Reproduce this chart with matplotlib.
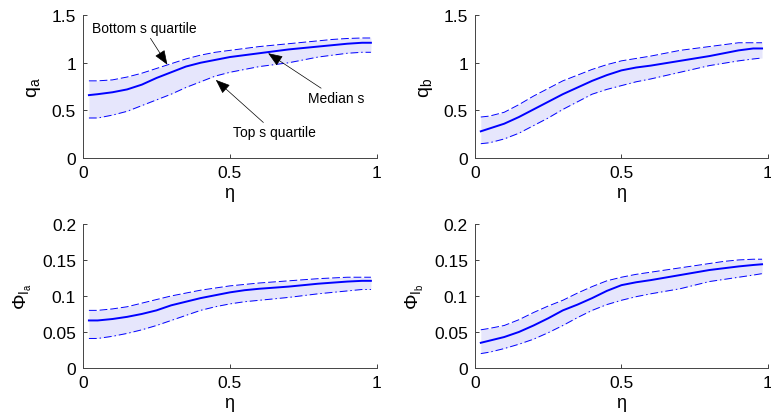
import matplotlib
matplotlib.use("Agg")
import matplotlib.pyplot as plt

plt.rcParams["font.family"] = ["Liberation Sans", "DejaVu Sans"]
plt.rcParams["mathtext.fontset"] = "custom"
plt.rcParams["mathtext.rm"] = "Liberation Sans"
plt.rcParams["mathtext.it"] = "Liberation Sans"

# eta grid shared by all four panels
eta = [0.02, 0.05, 0.1, 0.15, 0.2, 0.25, 0.3, 0.35, 0.4, 0.45, 0.5,
       0.55, 0.6, 0.65, 0.7, 0.75, 0.8, 0.85, 0.9, 0.95, 0.98]

# q_a: median and quartiles
qa_med = [0.66, 0.67, 0.69, 0.72, 0.77, 0.84, 0.90, 0.96, 1.00, 1.03, 1.06,
          1.08, 1.10, 1.12, 1.14, 1.155, 1.17, 1.185, 1.20, 1.21, 1.21]
qa_hi = [0.81, 0.81, 0.82, 0.85, 0.89, 0.94, 0.99, 1.04, 1.08, 1.11, 1.13,
         1.15, 1.17, 1.185, 1.20, 1.215, 1.23, 1.245, 1.255, 1.26, 1.26]
qa_lo = [0.42, 0.42, 0.45, 0.49, 0.55, 0.61, 0.67, 0.74, 0.80, 0.86, 0.90,
         0.93, 0.96, 0.98, 1.00, 1.03, 1.06, 1.08, 1.10, 1.11, 1.11]

# q_b
qb_med = [0.28, 0.31, 0.36, 0.43, 0.51, 0.59, 0.67, 0.74, 0.81, 0.87, 0.92,
          0.95, 0.97, 0.995, 1.02, 1.045, 1.07, 1.10, 1.13, 1.15, 1.15]
qb_hi = [0.43, 0.44, 0.48, 0.56, 0.65, 0.73, 0.81, 0.87, 0.93, 0.98, 1.02,
         1.045, 1.07, 1.10, 1.13, 1.15, 1.17, 1.19, 1.21, 1.21, 1.21]
qb_lo = [0.15, 0.16, 0.20, 0.26, 0.34, 0.42, 0.51, 0.59, 0.67, 0.72, 0.76,
         0.80, 0.83, 0.865, 0.90, 0.935, 0.97, 0.995, 1.02, 1.04, 1.05]

# Phi_Ia
pa_med = [0.066, 0.066, 0.068, 0.071, 0.075, 0.080, 0.087, 0.092, 0.097, 0.101, 0.105,
          0.108, 0.110, 0.1115, 0.113, 0.115, 0.117, 0.1185, 0.120, 0.121, 0.121]
pa_hi = [0.080, 0.080, 0.082, 0.085, 0.090, 0.095, 0.100, 0.104, 0.108, 0.111, 0.114,
         0.116, 0.118, 0.1195, 0.121, 0.1225, 0.124, 0.125, 0.126, 0.126, 0.126]
pa_lo = [0.041, 0.041, 0.044, 0.048, 0.053, 0.059, 0.066, 0.073, 0.080, 0.085, 0.089,
         0.092, 0.094, 0.096, 0.098, 0.1005, 0.103, 0.105, 0.107, 0.109, 0.109]

# Phi_Ib
pb_med = [0.035, 0.038, 0.043, 0.050, 0.059, 0.069, 0.080, 0.088, 0.097, 0.107, 0.115,
          0.119, 0.122, 0.1255, 0.129, 0.1325, 0.136, 0.1385, 0.141, 0.143, 0.144]
pb_hi = [0.053, 0.055, 0.059, 0.067, 0.077, 0.086, 0.094, 0.104, 0.113, 0.121, 0.126,
         0.130, 0.133, 0.136, 0.139, 0.142, 0.145, 0.148, 0.150, 0.151, 0.151]
pb_lo = [0.020, 0.022, 0.027, 0.033, 0.040, 0.049, 0.059, 0.070, 0.080, 0.088, 0.094,
         0.099, 0.103, 0.1065, 0.110, 0.115, 0.120, 0.123, 0.126, 0.129, 0.131]

q_ticks = [0, 0.5, 1, 1.5]
q_labels = ["0", "0.5", "1", "1.5"]
phi_ticks = [0, 0.05, 0.1, 0.15, 0.2]
phi_labels = ["0", "0.05", "0.1", "0.15", "0.2"]

panels = [
    (qa_med, qa_hi, qa_lo, r"q$_a$", (0, 1.5), q_ticks, q_labels),
    (qb_med, qb_hi, qb_lo, r"q$_b$", (0, 1.5), q_ticks, q_labels),
    (pa_med, pa_hi, pa_lo, r"$\Phi_{I_a}$", (0, 0.2), phi_ticks, phi_labels),
    (pb_med, pb_hi, pb_lo, r"$\Phi_{I_b}$", (0, 0.2), phi_ticks, phi_labels),
]

rects = [
    [0.1077, 0.616, 0.381, 0.345],
    [0.616, 0.616, 0.380, 0.345],
    [0.1077, 0.1087, 0.381, 0.348],
    [0.616, 0.1087, 0.380, 0.348],
]

BLUE = "#0000ff"
FILL = "#e6e6fc"

fig = plt.figure(figsize=(7.71, 4.14), dpi=100)
axes = []
for rect, (med, hi, lo, ylab, ylim, yt, ytl) in zip(rects, panels):
    ax = fig.add_axes(rect)
    ax.fill_between(eta, lo, hi, color=FILL, lw=0)
    ax.plot(eta, hi, color=BLUE, lw=0.7, dashes=(8, 3))
    ax.plot(eta, lo, color=BLUE, lw=0.7, dashes=(8, 3, 1.5, 3))
    ax.plot(eta, med, color=BLUE, lw=1.4)
    ax.set_xlim(0, 1)
    ax.set_ylim(*ylim)
    ax.set_xticks([0, 0.5, 1])
    ax.set_xticklabels(["0", "0.5", "1"])
    ax.set_yticks(yt)
    ax.set_yticklabels(ytl)
    ax.tick_params(direction="in", length=3, width=0.6, labelsize=12.5, pad=5,
                   colors="#222222", labelcolor="black")
    for side in ("top", "right"):
        ax.spines[side].set_visible(False)
    for side in ("left", "bottom"):
        ax.spines[side].set_color("#444444")
        ax.spines[side].set_linewidth(0.7)
    ax.set_xlabel(r"$\eta$", fontsize=13, labelpad=4)
    ax.set_ylabel(ylab, fontsize=14, labelpad=6)
    axes.append(ax)

arrow = dict(arrowstyle="-|>,head_length=0.9,head_width=0.35", color="black",
             lw=0.5, shrinkA=0, shrinkB=0)
ax = axes[0]
ax.annotate("Bottom s quartile", xy=(0.287, 0.98), xytext=(0.03, 1.36),
            fontsize=10, ha="left", va="center", arrowprops=arrow)
ax.annotate("Median s", xy=(0.63, 1.10), xytext=(0.765, 0.63),
            fontsize=10, ha="left", va="center", arrowprops=arrow)
ax.annotate("Top s quartile", xy=(0.452, 0.82), xytext=(0.51, 0.27),
            fontsize=10, ha="left", va="center", arrowprops=arrow)

fig.savefig("out.png", dpi=100, facecolor="white")
